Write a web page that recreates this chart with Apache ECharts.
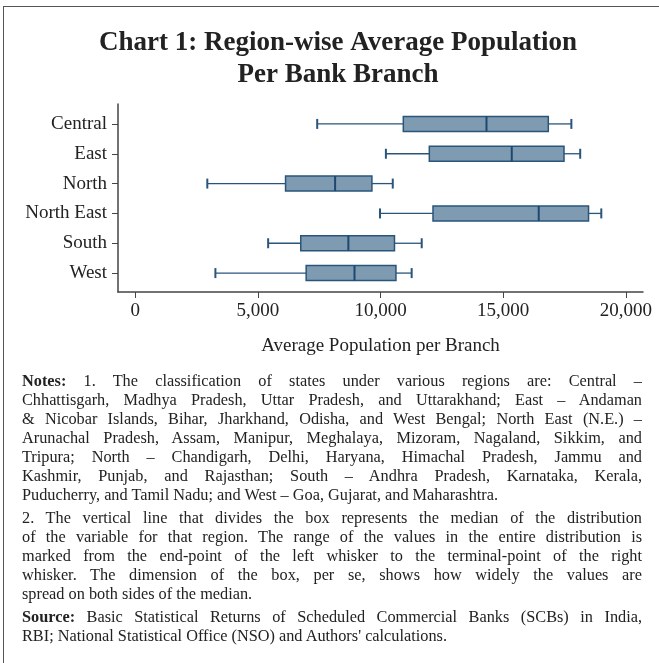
<!DOCTYPE html>
<html>
<head>
<meta charset="utf-8">
<script src="https://cdn.jsdelivr.net/npm/echarts@6/dist/echarts.min.js"></script>
<style>
    html, body { margin: 0; padding: 0; background: #fff; }
    #wrap { position: relative; width: 659px; height: 663px; overflow: hidden; }
    #frame { position: absolute; left: 3px; top: 6px; width: 700px; height: 700px;
             border-left: 1.5px solid #555; border-top: 1.5px solid #555; }
    #chart1 { position: absolute; left: 0; top: 0; width: 659px; height: 663px; }
    #notes { position: absolute; left: 22px; top: 371px; width: 620px;
             font-family: "Liberation Serif", "DejaVu Serif", serif; font-size: 16.3px;
             line-height: 19px; color: #222; }
    #notes .l { white-space: nowrap; text-align: justify; text-align-last: justify; }
    #notes .e { white-space: nowrap; text-align: left; }
    #notes .gap { height: 4px; }
</style>
</head>
<body>
<div id="wrap">
    <div id="frame"></div>
    <div id="chart1"></div>
    <div id="notes">
        <div class="l"><b>Notes:</b> 1. The classification of states under various regions are: Central –</div>
        <div class="l">Chhattisgarh, Madhya Pradesh, Uttar Pradesh, and Uttarakhand; East – Andaman</div>
        <div class="l">&amp; Nicobar Islands, Bihar, Jharkhand, Odisha, and West Bengal; North East (N.E.) –</div>
        <div class="l">Arunachal Pradesh, Assam, Manipur, Meghalaya, Mizoram, Nagaland, Sikkim, and</div>
        <div class="l">Tripura; North – Chandigarh, Delhi, Haryana, Himachal Pradesh, Jammu and</div>
        <div class="l">Kashmir, Punjab, and Rajasthan; South – Andhra Pradesh, Karnataka, Kerala,</div>
        <div class="e">Puducherry, and Tamil Nadu; and West – Goa, Gujarat, and Maharashtra.</div>
        <div class="gap"></div>
        <div class="l">2. The vertical line that divides the box represents the median of the distribution</div>
        <div class="l">of the variable for that region. The range of the values in the entire distribution is</div>
        <div class="l">marked from the end-point of the left whisker to the terminal-point of the right</div>
        <div class="l">whisker. The dimension of the box, per se, shows how widely the values are</div>
        <div class="e">spread on both sides of the median.</div>
        <div class="gap"></div>
        <div class="l"><b>Source:</b> Basic Statistical Returns of Scheduled Commercial Banks (SCBs) in India,</div>
        <div class="e">RBI; National Statistical Office (NSO) and Authors' calculations.</div>
    </div>
</div>
<script>
    // regions, top to bottom
    let regions = ['Central', 'East', 'North', 'North East', 'South', 'West']
    // average population per branch: whisker ends, quartiles, median
    let lows    = [7420, 10220, 2940, 9980, 5420, 3270]
    let q1s     = [10930, 11990, 6130, 12140, 6750, 6970]
    let medians = [14320, 15350, 8150, 16450, 8690, 8940]
    let q3s     = [16840, 17480, 9650, 18480, 10570, 10630]
    let highs   = [17780, 18140, 10500, 19000, 11680, 11270]
    let xTicks  = [0, 5000, 10000, 15000, 20000]

    let font = '"Liberation Serif", "DejaVu Serif", serif'
    let boxFill = '#7f9bb1'
    let boxLine = '#2a557b'

    let seriesData = []
    for (let i = 0; i < regions.length; i++) {
        seriesData.push([i, lows[i], q1s[i], medians[i], q3s[i], highs[i]])
    }

    function fmt(v) {
        return String(v).replace(/\B(?=(\d{3})+(?!\d))/g, ',')
    }

    function renderBox(params, api) {
        let c = api.value(0)
        let pLo = api.coord([api.value(1), c])
        let pQ1 = api.coord([api.value(2), c])
        let pMd = api.coord([api.value(3), c])
        let pQ3 = api.coord([api.value(4), c])
        let pHi = api.coord([api.value(5), c])
        let y = pMd[1]
        let bh = 15, ch = 10
        let lineStyle = { stroke: boxLine, lineWidth: 1.3 }
        return {
            type: 'group',
            children: [
                { type: 'line', shape: { x1: pLo[0], y1: y, x2: pQ1[0], y2: y }, style: lineStyle },
                { type: 'line', shape: { x1: pQ3[0], y1: y, x2: pHi[0], y2: y }, style: lineStyle },
                { type: 'line', shape: { x1: pLo[0], y1: y - ch / 2, x2: pLo[0], y2: y + ch / 2 },
                  style: { stroke: boxLine, lineWidth: 2 } },
                { type: 'line', shape: { x1: pHi[0], y1: y - ch / 2, x2: pHi[0], y2: y + ch / 2 },
                  style: { stroke: boxLine, lineWidth: 2 } },
                { type: 'rect', shape: { x: pQ1[0], y: y - bh / 2, width: pQ3[0] - pQ1[0], height: bh },
                  style: { fill: boxFill, stroke: boxLine, lineWidth: 1.5 } },
                { type: 'line', shape: { x1: pMd[0], y1: y - bh / 2, x2: pMd[0], y2: y + bh / 2 },
                  style: { stroke: '#1d4870', lineWidth: 2 } }
            ]
        }
    }

    let myChart = echarts.init(document.getElementById('chart1'))
    const option = {
        animation: false,
        title: {
            text: 'Chart 1: Region-wise Average Population\nPer Bank Branch',
            left: 333,
            textAlign: 'center',
            top: 22,
            textStyle: {
                fontFamily: font,
                fontWeight: 'bold',
                fontSize: 27,
                lineHeight: 32,
                color: '#222'
            }
        },
        grid: [
            { left: 118, right: 16, top: 104, height: 188 },
            { left: 118, right: 16, top: 109, height: 179 }
        ],
        xAxis: [
            {
                type: 'value',
                gridIndex: 0,
                min: -700,
                max: 20700,
                splitLine: { show: false },
                axisLine: { show: true, onZero: false, lineStyle: { color: '#444', width: 1.5 } },
                axisTick: { show: true, length: 6, customValues: xTicks, lineStyle: { color: '#444' } },
                axisLabel: {
                    customValues: xTicks,
                    margin: 10,
                    fontFamily: font,
                    fontSize: 19,
                    color: '#222',
                    formatter: fmt
                },
                name: 'Average Population per Branch',
                nameLocation: 'middle',
                nameGap: 45,
                nameTextStyle: { fontFamily: font, fontSize: 19, color: '#222' }
            },
            {
                type: 'value',
                gridIndex: 1,
                min: -700,
                max: 20700,
                show: false
            }
        ],
        yAxis: [
            {
                type: 'value',
                gridIndex: 0,
                splitLine: { show: false },
                axisLine: { show: true, onZero: false, lineStyle: { color: '#444', width: 1.5 } },
                axisTick: { show: false },
                axisLabel: { show: false }
            },
            {
                type: 'category',
                gridIndex: 1,
                data: regions,
                inverse: true,
                axisLine: { show: false, onZero: false },
                axisTick: { show: true, alignWithLabel: true, length: 6, lineStyle: { color: '#444' } },
                axisLabel: { margin: 11, fontFamily: font, fontSize: 19, color: '#222' }
            }
        ],
        series: [
            {
                name: 'Population per branch',
                type: 'custom',
                xAxisIndex: 1,
                yAxisIndex: 1,
                renderItem: renderBox,
                encode: { x: [1, 2, 3, 4, 5], y: 0 },
                data: seriesData
            }
        ]
    }
    myChart.setOption(option)
</script>
</body>
</html>
